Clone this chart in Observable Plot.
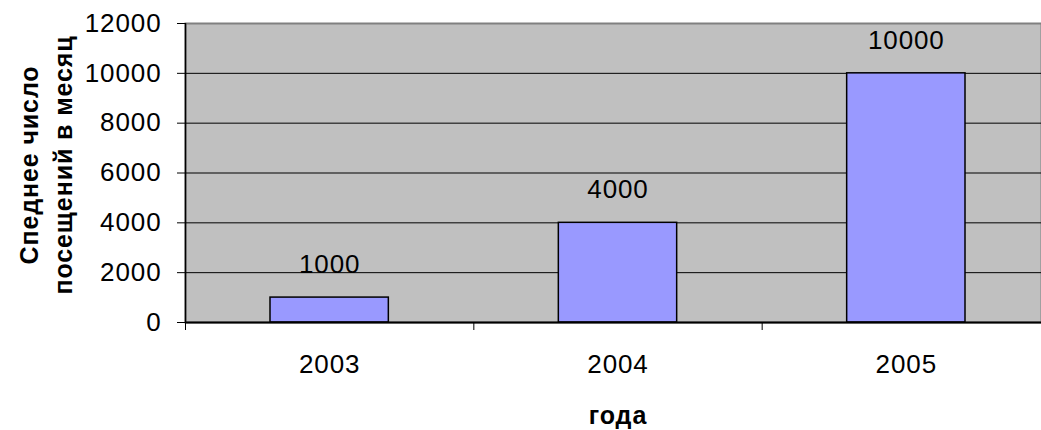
<!DOCTYPE html>
<html><head><meta charset="utf-8">
<script src="https://cdn.jsdelivr.net/npm/d3@7"></script>
<script src="https://cdn.jsdelivr.net/npm/@observablehq/plot@0.6"></script>
<style>
html,body{margin:0;padding:0;background:#fff;overflow:hidden}
svg text{letter-spacing:0.9px}
g[aria-label="y-title"] text{letter-spacing:0.2px}
g[aria-label="x-title"] text{letter-spacing:0.5px}
</style>
</head><body><div id="chart"></div>
<script>
const years = [2003, 2004, 2005];
const visits = [1000, 4000, 10000];
const yTicks = [0, 2000, 4000, 6000, 8000, 10000, 12000];
const yTitleLines = ["Спеднее число", "посещений в месяц"];
const xTitle = "года";

const data = years.map((year, i) => ({year, value: visits[i]}));
const slotBounds = [years[0] - 0.5, ...years.map(y => y + 0.5)];
const font = "'Liberation Sans', Arial, sans-serif";

const chart = Plot.plot({
  width: 1041, height: 430,
  marginLeft: 185, marginRight: 0, marginTop: 23, marginBottom: 108,
  style: {fontFamily: font, fontSize: "26px", background: "#fff", color: "#000", overflow: "visible"},
  x: {type: "linear", domain: [years[0] - 0.5, years[years.length - 1] + 0.5], range: [185, 1050]},
  y: {domain: [0, 12000]},
  marks: [
    Plot.frame({fill: "#C0C0C0", stroke: "#808080", strokeWidth: 2}),
    Plot.ruleY(yTicks.filter(t => t > 0 && t < 12000), {stroke: "#000", strokeWidth: 1}),
    Plot.rectY(data, {x1: d => d.year - 0.5, x2: d => d.year + 0.5, y1: 0, y2: "value",
      insetLeft: 85, insetRight: 85, fill: "#9999FF", stroke: "#000", strokeWidth: 1.5}),
    Plot.text(data, {x: "year", y: "value", text: d => String(d.value), dy: -33,
      lineAnchor: "middle", fontSize: 26, fill: "#000"}),
    Plot.ruleY([0], {stroke: "#000", strokeWidth: 2}),
    Plot.ruleX([years[0] - 0.5], {stroke: "#000", strokeWidth: 1.5}),
    Plot.axisY({ticks: yTicks, tickSize: 8, tickPadding: 16, tickFormat: d => String(d),
      fontSize: 26, label: null, stroke: "#000"}),
    Plot.axisX({ticks: slotBounds, tickSize: 8, tickFormat: () => "", label: null, stroke: "#000"}),
    Plot.axisX({ticks: years, tickSize: 0, tickPadding: 32, tickFormat: d => String(d),
      fontSize: 26, label: null}),
    Plot.text([yTitleLines.join("\n")], {text: d => d, frameAnchor: "left", rotate: -90, dx: -141, dy: -8,
      fontWeight: "bold", fontSize: 25, lineAnchor: "middle", textAnchor: "middle", lineHeight: 1.36,
      fill: "#000", ariaLabel: "y-title"}),
    Plot.text([xTitle], {text: d => d, x: () => d3.median(years), frameAnchor: "bottom", dy: 93,
      fontWeight: "bold", fontSize: 25, lineAnchor: "middle", fill: "#000", ariaLabel: "x-title"})
  ]
});
document.getElementById("chart").appendChild(chart);
</script>
</body></html>
